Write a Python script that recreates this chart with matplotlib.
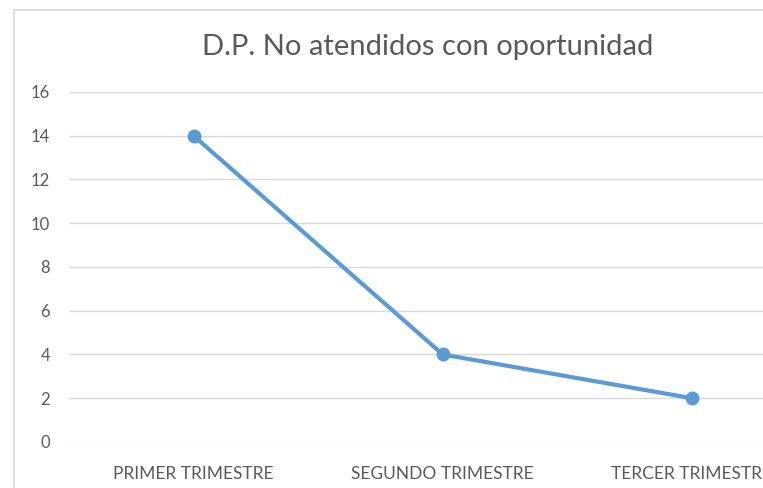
import matplotlib
matplotlib.use('Agg')
import matplotlib.pyplot as plt
from matplotlib.patches import Rectangle

plt.rcParams['font.family'] = ['Lato', 'DejaVu Sans']

# datos del grafico
trimestres = ['PRIMER TRIMESTRE', 'SEGUNDO TRIMESTRE', 'TERCER TRIMESTRE']
no_atendidos = [14, 4, 2]
y_ticks = [0, 2, 4, 6, 8, 10, 12, 14, 16]

fig = plt.figure(figsize=(7.63, 4.88), dpi=100)
ax = fig.add_axes([0.0904, 0.0943, 0.9096, 0.7172])

# borde del area del grafico (cortado a la derecha y abajo)
fig.patches.append(Rectangle((14 / 763, -0.1), 1.2, 1 - 10 / 488 + 0.1,
                             transform=fig.transFigure, fill=False,
                             edgecolor='#d9d9d9', linewidth=1.2))

x = list(range(len(trimestres)))
ax.plot(x, no_atendidos, color='#5B9BD5', linewidth=3,
        marker='o', markersize=9, solid_capstyle='round', zorder=3)

ax.set_ylim(0, 16)
ax.set_yticks(y_ticks)
ax.set_xlim(-0.5, 2.285)
ax.set_xticks(x)
ax.set_xticklabels(trimestres)
ax.grid(axis='y', color='#d9d9d9', linewidth=1)
ax.set_axisbelow(True)
for s in ax.spines.values():
    s.set_visible(False)
ax.tick_params(length=0, labelsize=12, labelcolor='#595959')
ax.tick_params(axis='x', labelsize=12.5, pad=17)
ax.tick_params(axis='y', pad=13.5)

fig.text(428 / 763, 1 - 47 / 488, 'D.P. No atendidos con oportunidad',
         ha='center', va='center', fontsize=21, color='#595959')

fig.savefig('out.png', dpi=100)
